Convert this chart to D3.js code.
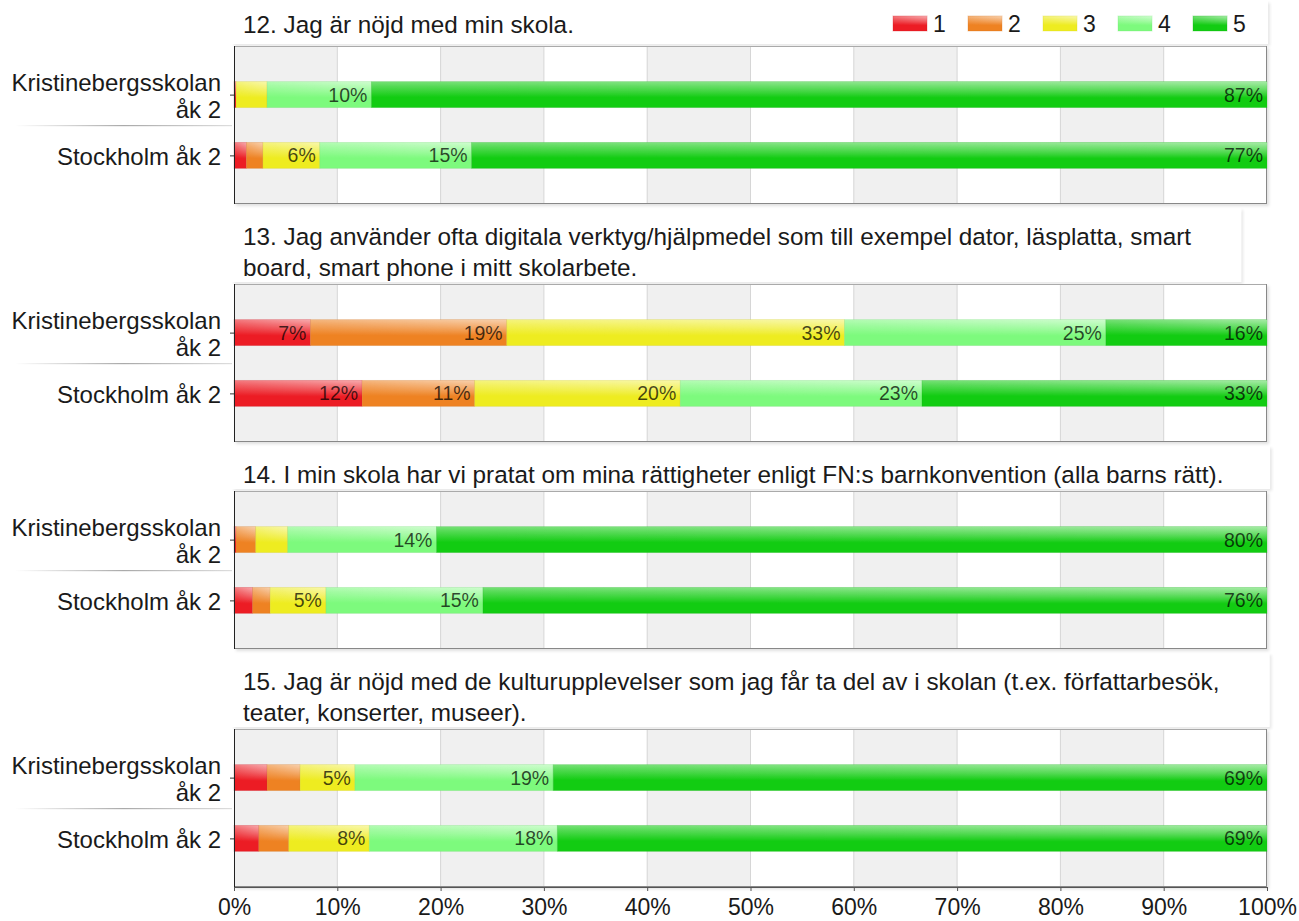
<!DOCTYPE html>
<html>
<head>
<meta charset="utf-8">
<script src="https://cdn.jsdelivr.net/npm/d3@7"></script>
<style>
    body { margin: 0; background: #fff; }
    svg { font-family: "Liberation Sans", Arial, sans-serif; display: block; }
</style>
</head>
<body>
<svg id="chart"></svg>
<script>
// survey data, share of answers per level (percent)
const categories = ["Kristinebergsskolan åk 2", "Stockholm åk 2"];
const levels = ["1", "2", "3", "4", "5"];
const levelColors = ["#ec1c24", "#ee8222", "#eeec20", "#7dfa7d", "#12cc12"];
const questions = [
    "12. Jag är nöjd med min skola.",
    "13. Jag använder ofta digitala verktyg/hjälpmedel som till exempel dator, läsplatta, smart board, smart phone i mitt skolarbete.",
    "14. I min skola har vi pratat om mina rättigheter enligt FN:s barnkonvention (alla barns rätt).",
    "15. Jag är nöjd med de kulturupplevelser som jag får ta del av i skolan (t.ex. författarbesök, teater, konserter, museer)."
];
const q12 = [[0.2, 0, 3.0, 10.1, 86.7], [1.2, 1.6, 5.5, 14.7, 77.0]];
const q13 = [[7.4, 19.0, 32.7, 25.3, 15.6], [12.4, 10.9, 19.9, 23.4, 33.4]];
const q14 = [[0.2, 1.9, 3.1, 14.4, 80.4], [1.8, 1.7, 5.4, 15.2, 75.9]];
const q15 = [[3.2, 3.2, 5.3, 19.2, 69.1], [2.4, 2.9, 7.8, 18.2, 68.7]];
const xTicks = [0, 10, 20, 30, 40, 50, 60, 70, 80, 90, 100];

const panelValues = [q12, q13, q14, q15];

const width = 1299, height = 921;
const margin = { top: 46, left: 234, right: 32 };
const plotW = width - margin.left - margin.right;
const boxH = 158;
const lineH = 31;
const barH = 26;
const titleSize = 24.3;

const svg = d3.select('#chart').attr('width', width).attr('height', height);
const defs = svg.append('defs');

const x = d3.scaleLinear().domain([0, 100]).range([0, plotW]);
const y = d3.scalePoint().domain(categories).range([0, boxH]).padding(0.8);
const color = d3.scaleOrdinal().domain(levels).range(levelColors);

// glossy fills
levels.forEach((l, i) => {
    const c = color(l);
    const g = defs.append('linearGradient').attr('id', 'grad' + i)
        .attr('x1', 0).attr('y1', 0).attr('x2', 0).attr('y2', 1);
    g.append('stop').attr('offset', 0).attr('stop-color', d3.interpolateRgb(c, '#fff')(0.42));
    g.append('stop').attr('offset', 0.18).attr('stop-color', d3.interpolateRgb(c, '#fff')(0.28));
    g.append('stop').attr('offset', 0.6).attr('stop-color', c);
    g.append('stop').attr('offset', 1).attr('stop-color', c);
});
const shine = defs.append('linearGradient').attr('id', 'shine')
    .attr('x1', 0).attr('y1', 0).attr('x2', 1).attr('y2', 0);
shine.append('stop').attr('offset', 0).attr('stop-color', '#fff').attr('stop-opacity', 0);
shine.append('stop').attr('offset', 1).attr('stop-color', '#fff').attr('stop-opacity', 0.35);
const vfade = defs.append('linearGradient').attr('id', 'vfade')
    .attr('x1', 0).attr('y1', 0).attr('x2', 0).attr('y2', 1);
vfade.append('stop').attr('offset', 0).attr('stop-color', '#fff');
vfade.append('stop').attr('offset', 0.65).attr('stop-color', '#000');
defs.append('mask').attr('id', 'topmask')
    .attr('maskContentUnits', 'objectBoundingBox')
    .append('rect').attr('width', 1).attr('height', 1).attr('fill', 'url(#vfade)');

const sep = defs.append('linearGradient').attr('id', 'sep');
sep.append('stop').attr('offset', 0).attr('stop-color', '#fff');
sep.append('stop').attr('offset', 0.5).attr('stop-color', '#aaa');
sep.append('stop').attr('offset', 1).attr('stop-color', '#ddd');

const shadow = defs.append('filter').attr('id', 'shadow')
    .attr('x', -0.05).attr('y', -0.1).attr('width', 1.1).attr('height', 1.3);
shadow.append('feDropShadow').attr('dx', 2).attr('dy', 2).attr('stdDeviation', 1.5)
    .attr('flood-color', '#000').attr('flood-opacity', 0.12);

function wrap(textSel, maxW) {
    textSel.each(function () {
        const text = d3.select(this);
        const words = text.text().split(/\s+/);
        const xPos = text.attr('x');
        text.text(null);
        let line = [];
        let tspan = text.append('tspan').attr('x', xPos);
        const lines = [tspan];
        words.forEach(w => {
            line.push(w);
            tspan.text(line.join(' '));
            if (tspan.node().getComputedTextLength() > maxW && line.length > 1) {
                line.pop();
                tspan.text(line.join(' '));
                line = [w];
                tspan = text.append('tspan').attr('x', xPos).text(w);
                lines.push(tspan);
            }
        });
        this.__lines = lines.length;
    });
}

const stack = d3.stack().keys(levels);

let panelTop = margin.top;
panelValues.forEach((vals, p) => {
    const rows = categories.map((c, i) => {
        const o = { cat: c };
        levels.forEach((l, k) => o[l] = vals[i][k]);
        return o;
    });
    const series = stack(rows);

    // title first so its line count sets the panel offset
    const measure = svg.append('text').attr('x', 0).attr('font-size', titleSize).text(questions[p]);
    wrap(measure, 1010);
    const nLines = measure.node().__lines;
    const lineTexts = measure.selectAll('tspan').nodes().map(n => n.textContent);
    const textW = d3.max(measure.selectAll('tspan').nodes(), n => n.getComputedTextLength());
    measure.remove();
    if (p > 0) panelTop += 18 + lineH * nLines;

    const chart = svg.append('g').attr('transform', `translate(${margin.left},${panelTop})`);

    // faint title block
    const blockW = p === 0 ? plotW + 3 : Math.min(plotW + 5, textW + 61);
    chart.append('rect')
        .attr('x', -2).attr('y', -lineH * nLines - 14)
        .attr('width', blockW).attr('height', lineH * nLines + 12)
        .attr('fill', '#fff')
        .attr('filter', 'url(#shadow)')
        .attr('opacity', 0.8);

    chart.append('g').selectAll('text')
        .data(lineTexts)
        .join('text')
        .attr('x', 9)
        .attr('y', (d, i) => (p === 0 ? -13 : -8) - (nLines - 1 - i) * lineH)
        .attr('font-size', titleSize)
        .attr('fill', '#1a1a1a')
        .text(d => d);

    // plot box
    chart.append('rect')
        .attr('width', plotW).attr('height', boxH)
        .attr('fill', '#fff').attr('filter', 'url(#shadow)');
    chart.append('g').selectAll('rect')
        .data(xTicks.slice(0, -1).filter((d, i) => i % 2 === 0))
        .join('rect')
        .attr('x', d => x(d))
        .attr('width', d => x(d + 10) - x(d))
        .attr('height', boxH)
        .attr('fill', '#f0f0f0');
    chart.append('g').selectAll('line')
        .data(xTicks.slice(1, -1))
        .join('line')
        .attr('x1', d => x(d)).attr('x2', d => x(d))
        .attr('y1', 0).attr('y2', boxH)
        .attr('stroke', '#d6d6d6');
    chart.append('line').attr('x1', 0).attr('x2', plotW).attr('y1', 0.5).attr('y2', 0.5)
        .attr('stroke', '#aaa');
    chart.append('line').attr('x1', plotW - 0.5).attr('x2', plotW - 0.5).attr('y1', 0).attr('y2', boxH)
        .attr('stroke', '#888');
    chart.append('line').attr('x1', 0).attr('x2', plotW).attr('y1', boxH - 0.5).attr('y2', boxH - 0.5)
        .attr('stroke', '#888');

    // bars
    const layer = chart.append('g').selectAll('g')
        .data(series)
        .join('g');
    layer.selectAll('rect.bar')
        .data(d => d.map(s => Object.assign(s, { key: d.key, idx: d.index })))
        .join('rect')
        .attr('class', 'bar')
        .attr('x', d => x(d[0]))
        .attr('y', d => y(d.data.cat) - barH / 2)
        .attr('width', d => Math.max(0, x(d[1]) - x(d[0])))
        .attr('height', barH)
        .attr('fill', d => `url(#grad${d.idx})`)
        .attr('stroke', d => d3.color(color(d.key)).darker(0.5))
        .attr('stroke-opacity', d => (d[1] - d[0]) > 0 ? 0.25 : 0)
        .attr('stroke-width', 0.8);
    layer.selectAll('rect.shine')
        .data(d => d.filter(s => s[1] - s[0] > 0))
        .join('rect')
        .attr('class', 'shine')
        .attr('x', d => x(d[0]))
        .attr('y', d => y(d.data.cat) - barH / 2)
        .attr('width', d => x(d[1]) - x(d[0]))
        .attr('height', barH)
        .attr('fill', 'url(#shine)')
        .attr('mask', 'url(#topmask)');
    layer.selectAll('text')
        .data(d => d.filter(s => Math.round(s[1] - s[0]) >= 5))
        .join('text')
        .attr('x', d => x(d[1]) - 4)
        .attr('y', d => y(d.data.cat) + 7)
        .attr('text-anchor', 'end')
        .attr('font-size', 19.5)
        .attr('fill', '#000')
        .attr('fill-opacity', 0.72)
        .text(d => Math.round(d[1] - d[0]) + '%');

    // category axis
    const yAxisG = chart.append('g')
        .call(d3.axisLeft(y).tickSize(4).tickPadding(9));
    yAxisG.select('.domain').attr('d', `M0.5,0V${boxH}`).attr('stroke', '#222');
    yAxisG.selectAll('.tick line').attr('stroke', '#333');
    yAxisG.selectAll('.tick text')
        .attr('font-size', 24)
        .attr('fill', '#1a1a1a')
        .attr('font-family', null)
        .attr('dy', null)
        .attr('y', 9)
        .call(wrap, 225);
    yAxisG.selectAll('.tick text').each(function () {
        const t = d3.select(this).selectAll('tspan');
        const n = t.size();
        t.attr('dy', (d, i) => i === 0 ? -(n - 1) * 13.5 : 27);
    });
    chart.append('rect')
        .attr('x', 15 - margin.left)
        .attr('y', (y(categories[0]) + y(categories[1])) / 2)
        .attr('width', margin.left - 17)
        .attr('height', 1.2)
        .attr('fill', 'url(#sep)');

    // legend in first panel
    if (p === 0) {
        const legend = chart.append('g').selectAll('g')
            .data(levels)
            .join('g')
            .attr('transform', (d, i) => `translate(${659 + i * 75},-30)`);
        legend.append('rect')
            .attr('width', 34).attr('height', 15)
            .attr('fill', (d, i) => `url(#grad${i})`)
            .attr('stroke', d => d3.color(color(d)).darker(0.3))
            .attr('stroke-opacity', 0.3);
        legend.append('rect')
            .attr('width', 34).attr('height', 15)
            .attr('fill', 'url(#shine)')
            .attr('mask', 'url(#topmask)');
        legend.append('text')
            .attr('x', 40).attr('y', 16)
            .attr('font-size', 23)
            .attr('fill', '#1a1a1a')
            .text(d => d);
    }

    // percent axis under last panel
    if (p === panelValues.length - 1) {
        const xAxisG = chart.append('g')
            .attr('transform', `translate(0,${boxH})`)
            .call(d3.axisBottom(x).tickValues(xTicks).tickFormat(d => d + '%').tickSize(4).tickSizeOuter(0).tickPadding(8));
        xAxisG.select('.domain').attr('stroke', '#555');
        xAxisG.selectAll('.tick line').attr('stroke', '#555');
        xAxisG.selectAll('.tick text')
            .attr('font-size', 23)
            .attr('font-family', null)
            .attr('fill', '#1a1a1a');
    }

    panelTop += boxH;
});
</script>
</body>
</html>
